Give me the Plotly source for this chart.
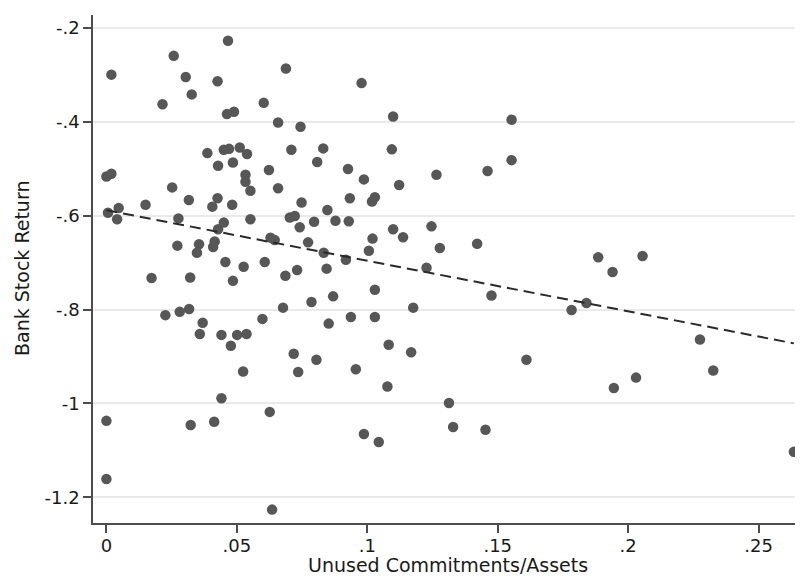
import numpy as np
import plotly.graph_objects as go

# Unused commitments / assets (x) and bank stock return (y)
unused_commit = [
    0.0466, 0.0258, 0.0019, 0.0304, 0.0426, 0.0327, 0.0215, 0.0603, 0.0462, 0.0489,
    0.0387, 0.0450, 0.0470, 0.0511, 0.0539, 0.0428, 0.0485, 0.0000, 0.0019, 0.0533,
    0.0533, 0.0552, 0.0623, 0.0252, 0.0316, 0.0150, 0.0426, 0.0406, 0.0482, 0.0006,
    0.0047, 0.0041, 0.0276, 0.0552, 0.0450, 0.0428, 0.0629, 0.0645, 0.0272, 0.0355,
    0.0347, 0.0415, 0.0409, 0.0456, 0.0526, 0.0607, 0.0173, 0.0321, 0.0485, 0.0226,
    0.0281, 0.0317, 0.0598, 0.0369, 0.0358, 0.0441, 0.0501, 0.0537, 0.0477, 0.0524,
    0.0000, 0.0000, 0.0323, 0.0413, 0.0441, 0.0626, 0.0635, 0.0688, 0.0978, 0.0658,
    0.0744, 0.1099, 0.1553, 0.0709, 0.0831, 0.0808, 0.1094, 0.0926, 0.0987, 0.1122,
    0.1265, 0.1461, 0.1553, 0.0658, 0.0748, 0.0933, 0.1018, 0.1029, 0.0703, 0.0722,
    0.0741, 0.0796, 0.0847, 0.0878, 0.0929, 0.0773, 0.0833, 0.0918, 0.0731, 0.0686,
    0.0844, 0.1020, 0.1006, 0.1099, 0.1137, 0.1246, 0.1278, 0.1421, 0.1227, 0.1029,
    0.0869, 0.0786, 0.0677, 0.1476, 0.0937, 0.1029, 0.0852, 0.1176, 0.1082, 0.1168,
    0.0718, 0.0805, 0.0735, 0.0956, 0.1077, 0.1610, 0.1313, 0.0987, 0.1044, 0.1329,
    0.1453, 0.1885, 0.2055, 0.1940, 0.1783, 0.1840, 0.2275, 0.2326, 0.2030, 0.1945,
    0.2635,
]
stock_return = [
    -0.228, -0.260, -0.300, -0.305, -0.314, -0.342, -0.363, -0.360, -0.384, -0.379,
    -0.467, -0.460, -0.458, -0.455, -0.469, -0.494, -0.487, -0.517, -0.511, -0.513,
    -0.528, -0.547, -0.503, -0.540, -0.567, -0.577, -0.563, -0.581, -0.577, -0.594,
    -0.584, -0.608, -0.606, -0.608, -0.615, -0.629, -0.647, -0.652, -0.664, -0.661,
    -0.679, -0.655, -0.667, -0.699, -0.709, -0.699, -0.733, -0.732, -0.739, -0.812,
    -0.805, -0.799, -0.820, -0.828, -0.852, -0.854, -0.854, -0.852, -0.877, -0.932,
    -1.037, -1.161, -1.046, -1.039, -0.989, -1.018, -1.226, -0.287, -0.318, -0.402,
    -0.411, -0.389, -0.396, -0.460, -0.457, -0.486, -0.459, -0.501, -0.523, -0.535,
    -0.513, -0.505, -0.482, -0.542, -0.572, -0.563, -0.570, -0.561, -0.604, -0.601,
    -0.625, -0.613, -0.588, -0.611, -0.612, -0.657, -0.679, -0.694, -0.716, -0.728,
    -0.713, -0.649, -0.675, -0.629, -0.646, -0.623, -0.669, -0.660, -0.711, -0.758,
    -0.772, -0.784, -0.796, -0.770, -0.816, -0.816, -0.830, -0.796, -0.875, -0.891,
    -0.894, -0.907, -0.933, -0.927, -0.964, -0.907, -0.999, -1.065, -1.082, -1.050,
    -1.056, -0.689, -0.686, -0.720, -0.801, -0.786, -0.864, -0.930, -0.945, -0.967,
    -1.103,
]

x_ticks = [0, 0.05, 0.10, 0.15, 0.20, 0.25]
x_tick_labels = ["0", ".05", ".1", ".15", ".2", ".25"]
y_ticks = [-1.2, -1.0, -0.8, -0.6, -0.4, -0.2]
y_tick_labels = ["-1.2", "-1", "-.8", "-.6", "-.4", "-.2"]
x_title = "Unused Commitments/Assets"
y_title = "Bank Stock Return"

x = np.array(unused_commit)
y = np.array(stock_return)
slope, intercept = np.polyfit(x, y, 1)
fit_x = np.array([x.min(), x.max()])
fit_y = intercept + slope * fit_x

FONT = "DejaVu Sans, Verdana, sans-serif"
AX = "#4d4d4d"

fig = go.Figure()
fig.add_trace(go.Scatter(
    x=x, y=y, mode="markers",
    marker=dict(size=10.5, color="#575757", line=dict(width=0)),
    showlegend=False, hoverinfo="skip",
))
fig.add_trace(go.Scatter(
    x=fit_x, y=fit_y, mode="lines",
    line=dict(color="#2a2a2a", width=2, dash="11px,6px"),
    showlegend=False, hoverinfo="skip",
))

# the page body adds an 8px offset, so the figure is 8px smaller on each side
fig.update_layout(
    width=795, height=571,
    margin=dict(l=85, r=0, t=7, b=56),
    paper_bgcolor="white", plot_bgcolor="white",
    font=dict(family=FONT, size=18, color="#1a1a1a"),
    xaxis=dict(
        range=[-0.00514, 0.267], automargin=False,
        tickvals=x_ticks, ticktext=x_tick_labels,
        showgrid=False, zeroline=False,
        showline=True, linecolor=AX, linewidth=1.5,
        ticks="outside", ticklen=8, tickwidth=1.5, tickcolor=AX,
        ticklabelstandoff=-2,
        tickfont=dict(size=18),
    ),
    yaxis=dict(
        range=[-1.2545, -0.173], automargin=False,
        tickvals=y_ticks, ticktext=y_tick_labels,
        showgrid=True, gridcolor="#eaeaea", gridwidth=1.5,
        zeroline=False,
        showline=True, linecolor=AX, linewidth=1.5,
        ticks="outside", ticklen=8, tickwidth=1.5, tickcolor=AX,
        tickfont=dict(size=18),
    ),
    annotations=[
        dict(text=x_title, xref="paper", yref="paper", x=0.5, y=-0.083,
             xanchor="center", yanchor="middle", showarrow=False,
             font=dict(size=19)),
        dict(text=y_title, xref="paper", yref="paper", x=-0.1, y=0.5,
             xanchor="center", yanchor="middle", showarrow=False,
             textangle=-90, font=dict(size=19)),
    ],
)

fig.write_html("out.html")
